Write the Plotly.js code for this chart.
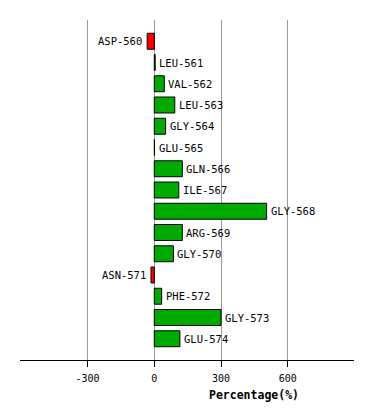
<!DOCTYPE html>
<html>
<head>
<meta charset="utf-8">
<script src="https://cdn.plot.ly/plotly-3.0.1.min.js"></script>
<style>html,body{margin:0;padding:0;background:#fff;}#chart{width:374px;height:420px;}</style>
</head>
<body>
<div id="chart"></div>
<script>
const residues = ["ASP-560","LEU-561","VAL-562","LEU-563","GLY-564","GLU-565","GLN-566","ILE-567","GLY-568","ARG-569","GLY-570","ASN-571","PHE-572","GLY-573","GLU-574"];
const percentages = [-32, 4, 45, 92, 51, 1, 126, 110, 505, 126, 86, -15, 33, 300, 115];
const xTicks = [-300, 0, 300, 600];
const xTitle = "Percentage(%)";

const positions = residues.map((_, i) => i);
const colors = percentages.map(v => v < 0 ? "#ff0000" : "#00aa00");
const FONT = "DejaVu Sans Mono, monospace";

const trace = {
  type: "bar",
  orientation: "h",
  x: percentages,
  y: positions,
  width: 0.75,
  marker: {color: colors, line: {color: "#000000", width: 1}},
  hoverinfo: "none"
};

const annotations = residues.map((name, i) => ({
  x: percentages[i],
  y: positions[i],
  xref: "x", yref: "y",
  text: name,
  showarrow: false,
  xanchor: percentages[i] < 0 ? "right" : "left",
  xshift: percentages[i] < 0 ? -3 : 2,
  yanchor: "middle",
  font: {family: FONT, size: 10.5, color: "#000"}
}));
annotations.push({
  xref: "paper", yref: "paper",
  x: 0.70, y: -35/340,
  xanchor: "center", yanchor: "middle",
  text: "<b>" + xTitle + "</b>",
  showarrow: false,
  font: {family: FONT, size: 11.5, color: "#000"}
});

const layout = {
  width: 374, height: 420,
  margin: {l: 20, r: 20, t: 20, b: 60, pad: 0},
  paper_bgcolor: "#ffffff",
  plot_bgcolor: "#ffffff",
  showlegend: false,
  xaxis: {
    range: [-604, 898],
    tickvals: xTicks,
    ticktext: xTicks.map(String),
    showgrid: true, gridcolor: "#999999", gridwidth: 1,
    zeroline: true, zerolinecolor: "#999999", zerolinewidth: 1,
    showline: true, linecolor: "#000000", linewidth: 1,
    ticks: "outside", ticklen: 6, tickwidth: 1, tickcolor: "#000000",
    ticklabelstandoff: 3,
    tickfont: {family: FONT, size: 10, color: "#000"},
    fixedrange: true
  },
  yaxis: {
    range: [15, -1],
    showgrid: false, zeroline: false, showline: false,
    showticklabels: false, ticks: "",
    fixedrange: true
  },
  annotations: annotations
};

Plotly.newPlot("chart", [trace], layout, {displayModeBar: false, staticPlot: true});
</script>
</body>
</html>
